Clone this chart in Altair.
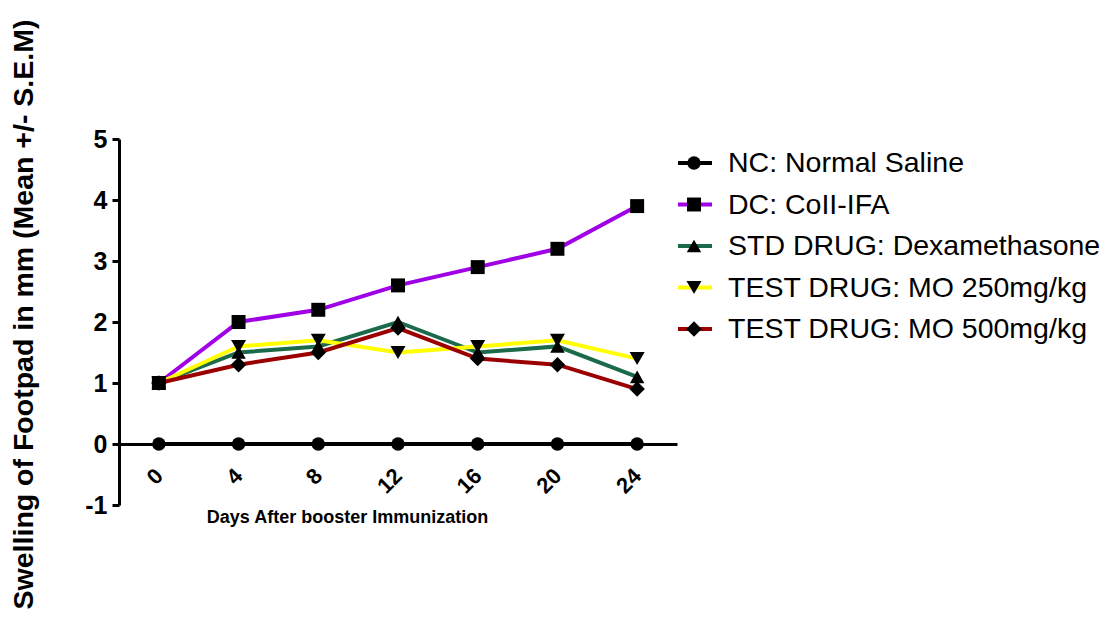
import altair as alt
import pandas as pd

days = [0, 4, 8, 12, 16, 20, 24]
series_names = [
    "NC: Normal Saline",
    "DC: CoII-IFA",
    "STD DRUG: Dexamethasone",
    "TEST DRUG: MO 250mg/kg",
    "TEST DRUG: MO 500mg/kg",
]
nc = [0, 0, 0, 0, 0, 0, 0]
dc = [1.0, 2.0, 2.2, 2.6, 2.9, 3.2, 3.9]
std = [1.0, 1.5, 1.6, 2.0, 1.5, 1.6, 1.1]
mo250 = [1.0, 1.6, 1.7, 1.5, 1.6, 1.7, 1.4]
mo500 = [1.0, 1.3, 1.5, 1.9, 1.4, 1.3, 0.9]

colors = ["#000000", "#A000E6", "#1B6B4A", "#FFFF00", "#9B0000"]
shapes = ["circle", "square", "triangle-up", "triangle-down", "diamond"]
sizes = [180, 240, 250, 250, 260]

values = [nc, dc, std, mo250, mo500]
rows = []
for name, vals in zip(series_names, values):
    for d, v in zip(days, vals):
        rows.append({"day": d, "value": v, "series": name})
df = pd.DataFrame(rows)
legend_df = pd.DataFrame({"series": series_names})

FONT = "Liberation Sans"

color_scale = alt.Scale(domain=series_names, range=colors)
shape_scale = alt.Scale(domain=series_names, range=shapes)
size_scale = alt.Scale(domain=series_names, range=sizes)

x_enc = alt.X(
    "day:Q",
    scale=alt.Scale(domain=[-2, 26], nice=False, zero=False),
    axis=alt.Axis(
        values=days,
        offset=-61,
        ticks=False,
        domainWidth=3,
        domainColor="black",
        grid=False,
        labelAngle=315,
        labelAlign="right",
        labelBaseline="middle",
        labelPadding=28,
        labelFont=FONT,
        labelFontSize=22,
        labelFontWeight="bold",
        labelColor="black",
        labelExpr="datum.value",
        title="Days After booster Immunization",
        titleFont=FONT,
        titleFontSize=18,
        titleFontWeight="bold",
        titleColor="black",
        titleX=228,
        titleY=78,
        titleAlign="center",
        titleBaseline="alphabetic",
    ),
)
y_enc = alt.Y(
    "value:Q",
    scale=alt.Scale(domain=[-1, 5], nice=False, zero=False),
    axis=alt.Axis(
        values=[-1, 0, 1, 2, 3, 4, 5],
        labelExpr="datum.value",
        domainWidth=3,
        domainColor="black",
        tickWidth=3,
        tickSize=7,
        tickColor="black",
        grid=False,
        labelPadding=5,
        labelFont=FONT,
        labelFontSize=25,
        labelFontWeight="bold",
        labelColor="black",
        title="Swelling of Footpad in mm (Mean +/- S.E.M)",
        titleFont=FONT,
        titleFontSize=28.5,
        titleFontWeight="bold",
        titleColor="black",
        titleAngle=270,
        titleX=-96,
        titleY=175,
        titleAlign="center",
        titleBaseline="middle",
    ),
)

lines = alt.Chart(df).mark_line(strokeWidth=4).encode(
    x=x_enc,
    y=y_enc,
    color=alt.Color("series:N", scale=color_scale, legend=None),
    detail="series:N",
)
points = alt.Chart(df).mark_point(filled=True, opacity=1, color="black").encode(
    x="day:Q",
    y="value:Q",
    shape=alt.Shape("series:N", scale=shape_scale, legend=None),
    size=alt.Size("series:N", scale=size_scale, legend=None),
)

leg_y = alt.Y(
    "series:N",
    scale=alt.Scale(domain=series_names, range=[24, 190], type="point", padding=0),
    axis=None,
)
leg_rules = alt.Chart(legend_df).mark_rule(strokeWidth=4).encode(
    x=alt.value(559),
    x2=alt.value(593),
    y=leg_y,
    color=alt.Color("series:N", scale=color_scale, legend=None),
)
leg_points = alt.Chart(legend_df).mark_point(filled=True, opacity=1, color="black").encode(
    x=alt.value(575),
    y=leg_y,
    shape=alt.Shape("series:N", scale=shape_scale, legend=None),
    size=alt.Size("series:N", scale=size_scale, legend=None),
)
leg_text = alt.Chart(legend_df).mark_text(
    align="left", baseline="middle", font=FONT, fontSize=28.5, color="black"
).encode(
    x=alt.value(609),
    y=leg_y,
    text="series:N",
)

main = alt.layer(lines, points)
legend = alt.layer(leg_rules, leg_points, leg_text)

chart = (
    alt.layer(main, legend)
    .resolve_scale(y="independent")
    .properties(
        width=558,
        height=366,
        padding={"left": 119, "top": 139, "right": 438, "bottom": 115},
        autosize=alt.AutoSizeParams(type="none"),
        background="white",
    )
    .configure_view(stroke=None)
)

chart.save("out.html", embed_options={"renderer": "svg", "actions": False})
